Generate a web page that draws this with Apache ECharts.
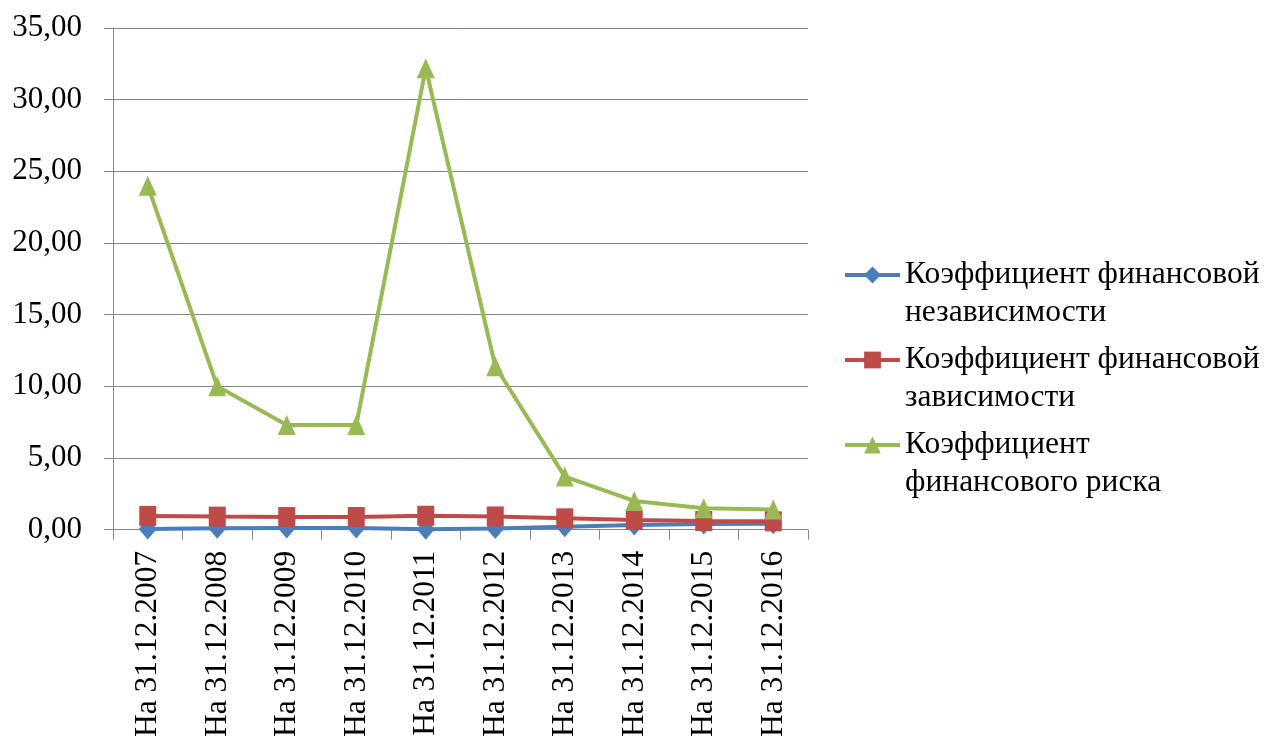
<!DOCTYPE html>
<html>
<head>
<meta charset="utf-8">
<script src="https://cdn.jsdelivr.net/npm/echarts@6/dist/echarts.min.js"></script>
<style>
  html, body { margin: 0; padding: 0; background: #ffffff; }
  #chart { width: 1266px; height: 740px; }
</style>
</head>
<body>
<div id="chart"></div>
<script>
// Reporting dates
const categories = [
  'На 31.12.2007', 'На 31.12.2008', 'На 31.12.2009', 'На 31.12.2010', 'На 31.12.2011',
  'На 31.12.2012', 'На 31.12.2013', 'На 31.12.2014', 'На 31.12.2015', 'На 31.12.2016'
];

const seriesNames = [
  'Коэффициент финансовой\nнезависимости',
  'Коэффициент финансовой\nзависимости',
  'Коэффициент\nфинансового риска'
];

// Ratios per date
const independence = [0.04, 0.09, 0.12, 0.12, 0.03, 0.08, 0.21, 0.33, 0.40, 0.42];
const dependence   = [0.96, 0.91, 0.88, 0.88, 0.97, 0.92, 0.79, 0.67, 0.60, 0.58];
const risk         = [24.0, 10.0, 7.3, 7.3, 32.2, 11.4, 3.7, 2.0, 1.5, 1.4];

const yTicks = { min: 0, max: 35, interval: 5 };

const FONT = '"Liberation Serif", "Times New Roman", serif';
const LH = 38;

const chart = echarts.init(document.getElementById('chart'), null, { renderer: 'canvas' });

function lineSeries(name, data, color, symbol, size) {
  return {
    name: name,
    type: 'line',
    data: data,
    symbol: symbol,
    symbolSize: size,
    showAllSymbol: true,
    clip: false,
    lineStyle: { color: color, width: 4 },
    itemStyle: { color: color },
    emphasis: { disabled: true },
    animation: false
  };
}

chart.setOption({
  backgroundColor: '#ffffff',
  animation: false,
  grid: { left: 113, right: 458, top: 28, bottom: 209 },
  legend: {
    orient: 'vertical',
    left: 843,
    top: 218,
    padding: 0,
    itemGap: -29,
    itemWidth: 55,
    itemHeight: 21,
    data: seriesNames,
    // leading blank line keeps the first line of each name level with its icon
    formatter: name => '\n' + name,
    lineStyle: { width: 4 },
    textStyle: {
      fontFamily: FONT,
      fontSize: 31.5,
      color: '#000000',
      lineHeight: LH
    }
  },
  xAxis: {
    type: 'category',
    data: categories,
    boundaryGap: true,
    axisLine: { lineStyle: { color: '#868686', width: 1 } },
    axisTick: { show: true, alignWithLabel: false, length: 10, lineStyle: { color: '#868686' } },
    axisLabel: {
      rotate: 90,
      interval: 0,
      margin: 21,
      fontFamily: FONT,
      fontSize: 31.5,
      color: '#000000'
    },
    splitLine: { show: false }
  },
  yAxis: {
    type: 'value',
    min: yTicks.min,
    max: yTicks.max,
    interval: yTicks.interval,
    axisLine: { show: true, lineStyle: { color: '#868686', width: 1 } },
    axisTick: { show: true, length: 9, lineStyle: { color: '#868686' } },
    axisLabel: {
      margin: 31,
      fontFamily: FONT,
      fontSize: 31,
      color: '#000000',
      formatter: v => v.toFixed(2).replace('.', ',')
    },
    splitLine: { show: true, lineStyle: { color: '#868686', width: 1 } }
  },
  series: [
    lineSeries(seriesNames[0], independence, '#4A7EBB', 'diamond', [18, 21]),
    lineSeries(seriesNames[1], dependence, '#BE4B48', 'rect', [17, 20]),
    lineSeries(seriesNames[2], risk, '#98B954', 'triangle', [18, 20])
  ]
});
</script>
</body>
</html>
